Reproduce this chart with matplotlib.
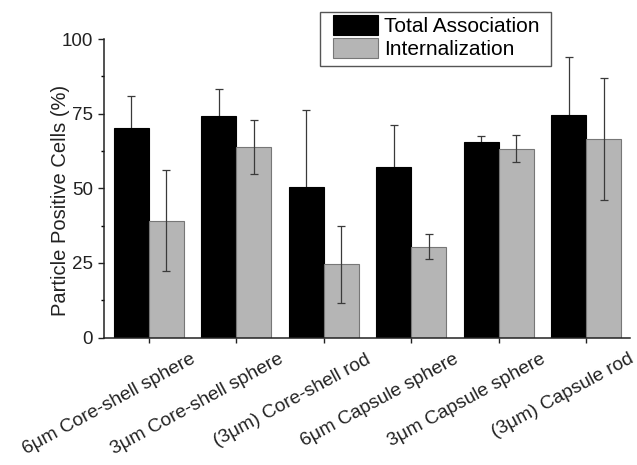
import numpy as np
import matplotlib.pyplot as plt
from matplotlib.patches import Rectangle
from matplotlib.ticker import MultipleLocator

plt.rcParams['font.family'] = ['Liberation Sans', 'DejaVu Sans']

categories = ["6μm Core-shell sphere", "3μm Core-shell sphere", "(3μm) Core-shell rod",
              "6μm Capsule sphere", "3μm Capsule sphere", "(3μm) Capsule rod"]
total_assoc = [70.3, 74.3, 50.6, 57.1, 65.5, 74.5]
total_err = [10.7, 9.0, 25.7, 14.1, 2.0, 19.5]
internal = [39.2, 63.9, 24.5, 30.4, 63.3, 66.6]
internal_err = [17.0, 9.0, 13.0, 4.2, 4.6, 20.5]

def main():
    fig = plt.figure(figsize=(6.37, 4.65), dpi=100)
    ax = fig.add_axes([0.1633, 0.274, 0.826, 0.642])

    x = np.arange(len(categories))
    w = 0.40
    ax.bar(x - w / 2, total_assoc, w, color="black", edgecolor="black", linewidth=0.8,
           label="Total Association", zorder=2)
    ax.bar(x + w / 2, internal, w, color="#b5b5b5", edgecolor="#777777", linewidth=0.8,
           label="Internalization", zorder=2)
    # lower half of the black bars' error bars disappears into the bar
    ax.errorbar(x - w / 2, total_assoc, yerr=total_err, fmt="none", ecolor="#3a3a3a",
                elinewidth=0.9, capsize=3, capthick=0.9, zorder=1)
    ax.errorbar(x + w / 2, internal, yerr=internal_err, fmt="none", ecolor="#3a3a3a",
                elinewidth=0.9, capsize=3, capthick=0.9, zorder=3)

    ax.set_xlim(-0.51, 5.5)
    ax.set_ylim(0, 100)
    ax.yaxis.set_major_locator(MultipleLocator(25))
    ax.yaxis.set_minor_locator(MultipleLocator(12.5))
    ax.set_xticks(x)
    ax.set_xticklabels([])
    for xi, name in zip(x, categories):
        ax.annotate(name, xy=(xi, 0), xycoords=("data", "axes fraction"),
                    xytext=(30, -9.5), textcoords="offset points",
                    ha="right", va="top", rotation=28.5, rotation_mode="anchor",
                    fontsize=13.8, color="#222222")

    ax.tick_params(axis="both", direction="out", width=1.0, colors="#222222")
    ax.tick_params(axis="y", which="major", length=4, labelsize=13.5, pad=4)
    ax.tick_params(axis="y", which="minor", length=2.5, width=1.0)
    ax.tick_params(axis="x", length=3.5)
    for s in ["top", "right"]:
        ax.spines[s].set_visible(False)
    for s in ["left", "bottom"]:
        ax.spines[s].set_linewidth(1.1)
        ax.spines[s].set_color("#222222")

    ax.set_ylabel("Particle Positive Cells (%)", fontsize=14.5, color="#222222")
    ax.yaxis.set_label_coords(-0.065, 0.46)

    # legend box is wider than its contents need, so the frame is drawn separately
    ax.legend(loc="upper left", bbox_to_anchor=(0.4354, 1.0804), fontsize=15,
              frameon=False, handlelength=2.16, handleheight=1.1, handletextpad=0.29,
              labelspacing=0.1, borderpad=0, borderaxespad=0)
    ax.add_patch(Rectangle((0.4106, 0.9095), 0.4392, 0.181, transform=ax.transAxes,
                           fill=False, edgecolor="#555555", linewidth=1.0,
                           clip_on=False, zorder=4))

    fig.savefig("out.png", dpi=100)
    plt.close(fig)

if __name__ == "__main__":
    main()
